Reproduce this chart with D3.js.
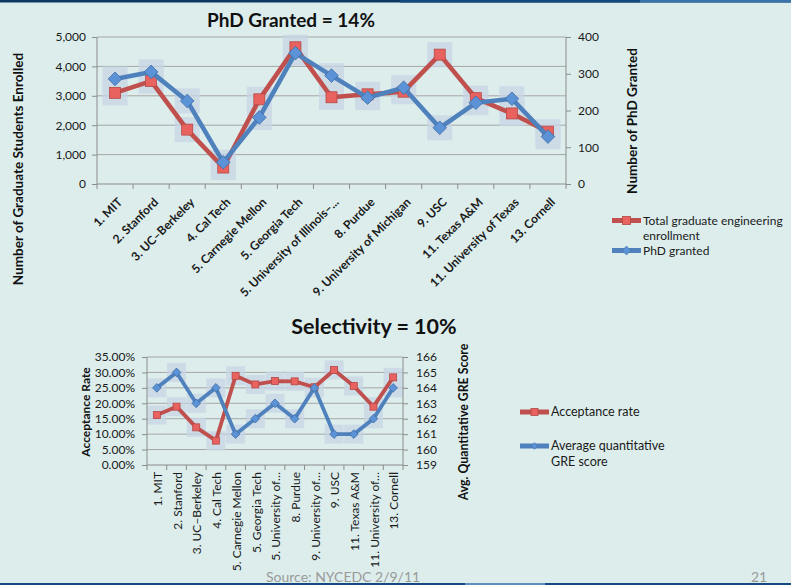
<!DOCTYPE html>
<html>
<head>
<meta charset="utf-8">
<script src="https://cdn.jsdelivr.net/npm/d3@7"></script>
<style>
  html, body { margin: 0; padding: 0; background: #dcedec; }
  svg { display: block; font-family: Lato, "Open Sans", sans-serif; }
</style>
</head>
<body>
<svg id="chart" width="791" height="585"></svg>
<script>
// ---------- DATA ----------
const topCategories = ["1. MIT", "2. Stanford", "3. UC–Berkeley", "4. Cal Tech", "5. Carnegie Mellon",
  "5. Georgia Tech", "5. University of Illinois–...", "8. Purdue", "9. University of Michigan",
  "9. USC", "11. Texas A&M", "11. University of Texas", "13. Cornell"];
const bottomCategories = ["1.  MIT", "2. Stanford", "3. UC–Berkeley", "4. Cal Tech", "5. Carnegie Mellon",
  "5. Georgia Tech", "5. University of…", "8. Purdue", "9. University of…",
  "9. USC", "11. Texas A&M", "11. University of…", "13. Cornell"];
const enrollment = [3100, 3500, 1850, 560, 2880, 4650, 2950, 3050, 3140, 4400, 2920, 2400, 1780];
const phdGranted = [286, 305, 226, 59, 181, 356, 295, 235, 262, 153, 221, 232, 129];
const acceptanceRate = [0.162, 0.189, 0.122, 0.079, 0.289, 0.261, 0.272, 0.271, 0.252, 0.308, 0.256, 0.189, 0.284];
const greScore = [164, 165, 163, 164, 161, 162, 163, 162, 164, 161, 161, 162, 164];
const enrollTicks = [0, 1000, 2000, 3000, 4000, 5000];
const phdTicks = [0, 100, 200, 300, 400];
const rateTicks = [0, 0.05, 0.10, 0.15, 0.20, 0.25, 0.30, 0.35];
const greTicks = [159, 160, 161, 162, 163, 164, 165, 166];

// ---------- STYLE ----------
const RED = "#c0504d", RED_FILL = "#e8625f", BLUE = "#4f81bd", BLUE_FILL = "#5b93d6";
const GRID = "#a6a6a6", AXIS = "#8c8c8c", TXT = "#1a1a1a", GLOW = "#c9d5e6";

const svg = d3.select("#chart");

// top slide bar
svg.append("rect").attr("x", 0).attr("y", 0).attr("width", 791).attr("height", 2.5).attr("fill", "#0c3862");
svg.append("rect").attr("x", 400).attr("y", 0).attr("width", 240).attr("height", 2.5).attr("fill", "#13497c");
svg.append("rect").attr("x", 640).attr("y", 0).attr("width", 151).attr("height", 2.5).attr("fill", "#3a73aa");

function diamond(s) { return `M0,${-s}L${s},0L0,${s}L${-s},0Z`; }

function drawChart(cfg) {
  const g = svg.append("g");
  const x = d3.scaleBand().domain(d3.range(cfg.labels.length)).range([cfg.x0, cfg.x1]);
  const yL = d3.scaleLinear().domain(cfg.leftDomain).range([cfg.y1, cfg.y0]);
  const yR = d3.scaleLinear().domain(cfg.rightDomain).range([cfg.y1, cfg.y0]);
  const cx = i => x(i) + x.bandwidth() / 2;

  // title
  g.append("text").attr("x", cfg.titleX).attr("y", cfg.titleY).attr("text-anchor", "middle")
    .attr("font-weight", "bold").attr("font-size", cfg.titleSize).attr("fill", "#111").text(cfg.title);

  // gridlines
  g.selectAll(".grid").data(cfg.leftTicks.slice(1)).join("line")
    .attr("x1", cfg.x0).attr("x2", cfg.x1).attr("y1", d => yL(d)).attr("y2", d => yL(d))
    .attr("stroke", GRID).attr("stroke-width", 1);

  // glows
  const glowG = g.append("g").attr("opacity", 0.75);
  const gs = cfg.glow;
  cfg.seriesA.forEach((v, i) => glowG.append("rect").attr("x", cx(i) - gs / 2).attr("y", yL(v) - gs / 2)
    .attr("width", gs).attr("height", gs).attr("fill", GLOW));
  cfg.seriesB.forEach((v, i) => glowG.append("rect").attr("x", cx(i) - gs / 2).attr("y", yR(v) - gs / 2)
    .attr("width", gs).attr("height", gs).attr("fill", GLOW));

  // axes lines
  g.append("line").attr("x1", cfg.x0).attr("x2", cfg.x0).attr("y1", cfg.y0).attr("y2", cfg.y1).attr("stroke", AXIS);
  g.append("line").attr("x1", cfg.x1).attr("x2", cfg.x1).attr("y1", cfg.y0).attr("y2", cfg.y1).attr("stroke", AXIS);
  g.append("line").attr("x1", cfg.x0).attr("x2", cfg.x1).attr("y1", cfg.y1).attr("y2", cfg.y1).attr("stroke", AXIS);

  // left axis ticks + labels
  const lAx = g.append("g").attr("transform", `translate(${cfg.x0},0)`)
    .call(d3.axisLeft(yL).tickValues(cfg.leftTicks).tickFormat(cfg.leftFormat).tickSize(5).tickPadding(cfg.leftPad));
  lAx.select(".domain").remove();
  lAx.selectAll("line").attr("stroke", AXIS);
  lAx.selectAll("text").attr("font-size", cfg.tickSize).attr("fill", TXT).attr("font-family", "Lato, sans-serif");

  const rAx = g.append("g").attr("transform", `translate(${cfg.x1},0)`)
    .call(d3.axisRight(yR).tickValues(cfg.rightTicks).tickFormat(cfg.rightFormat).tickSize(5).tickPadding(cfg.rightPad));
  rAx.select(".domain").remove();
  rAx.selectAll("line").attr("stroke", AXIS);
  rAx.selectAll("text").attr("font-size", cfg.tickSize).attr("fill", TXT).attr("font-family", "Lato, sans-serif");

  // category ticks at band boundaries
  g.selectAll(".ctick").data(d3.range(cfg.labels.length + 1)).join("line")
    .attr("x1", i => cfg.x0 + i * x.step()).attr("x2", i => cfg.x0 + i * x.step())
    .attr("y1", cfg.y1).attr("y2", cfg.y1 + 5).attr("stroke", AXIS);

  // category labels
  g.selectAll(".clab").data(cfg.labels).join("text")
    .attr("transform", (d, i) => `translate(${cx(i) + cfg.labDx},${cfg.labY}) rotate(${cfg.labRot})`)
    .attr("text-anchor", "end").attr("dy", cfg.labDy)
    .attr("font-size", cfg.labSize).attr("font-weight", cfg.labWeight).attr("fill", TXT).text(d => d);

  // lines
  const lineA = d3.line().x((d, i) => cx(i)).y(d => yL(d));
  const lineB = d3.line().x((d, i) => cx(i)).y(d => yR(d));
  g.append("path").datum(cfg.seriesA).attr("d", lineA).attr("fill", "none")
    .attr("stroke", RED).attr("stroke-width", cfg.lw).attr("stroke-linejoin", "round");
  const ms = cfg.marker;
  cfg.seriesA.forEach((v, i) => g.append("rect").attr("x", cx(i) - ms / 2).attr("y", yL(v) - ms / 2)
    .attr("width", ms).attr("height", ms).attr("fill", RED_FILL).attr("stroke", "#b54845").attr("stroke-width", 0.8));
  g.append("path").datum(cfg.seriesB).attr("d", lineB).attr("fill", "none")
    .attr("stroke", BLUE).attr("stroke-width", cfg.lw).attr("stroke-linejoin", "round");
  cfg.seriesB.forEach((v, i) => g.append("path").attr("transform", `translate(${cx(i)},${yR(v)})`)
    .attr("d", diamond(ms * 0.62)).attr("fill", BLUE_FILL).attr("stroke", "#3d6ca6").attr("stroke-width", 0.8));

  // axis titles
  g.append("text").attr("transform", `translate(${cfg.lTitleX},${cfg.lTitleY}) rotate(-90)`)
    .attr("text-anchor", "middle").attr("font-weight", "bold").attr("font-size", cfg.lTitleSize)
    .attr("fill", "#111").text(cfg.leftTitle);
  g.append("text").attr("transform", `translate(${cfg.rTitleX},${cfg.rTitleY}) rotate(-90)`)
    .attr("text-anchor", "middle").attr("font-weight", "bold").attr("font-size", cfg.rTitleSize)
    .attr("fill", "#111").text(cfg.rightTitle);

  // legend
  cfg.legend.forEach(l => {
    g.append("line").attr("x1", l.x).attr("x2", l.x + 29).attr("y1", l.y).attr("y2", l.y)
      .attr("stroke", l.color).attr("stroke-width", 5);
    if (l.shape === "square") {
      g.append("rect").attr("x", l.x + 14.5 - l.ms / 2).attr("y", l.y - l.ms / 2).attr("width", l.ms).attr("height", l.ms)
        .attr("fill", RED_FILL).attr("stroke", "#b54845").attr("stroke-width", 0.8);
    } else {
      g.append("path").attr("transform", `translate(${l.x + 14.5},${l.y})`).attr("d", diamond(l.ms * 0.55))
        .attr("fill", BLUE_FILL).attr("stroke", "#3d6ca6").attr("stroke-width", 0.6);
    }
    l.text.forEach((t, k) => g.append("text").attr("x", l.x + 31).attr("y", l.y + k * l.lh).attr("dy", "0.35em")
      .attr("font-size", l.fs).attr("fill", TXT).text(t));
  });
}

drawChart({
  labels: topCategories, x0: 97, x1: 566, y0: 37, y1: 184,
  leftDomain: [0, 5000], rightDomain: [0, 400], leftTicks: enrollTicks, rightTicks: phdTicks,
  leftFormat: d3.format(","), rightFormat: d3.format("d"), leftPad: 6, rightPad: 7,
  seriesA: enrollment, seriesB: phdGranted,
  title: "PhD Granted = 14%", titleX: 291, titleY: 27, titleSize: 19,
  tickSize: 12, glow: 25, marker: 11, lw: 4.6,
  labDx: 5, labY: 200, labRot: -45, labDy: "0.35em", labSize: 12, labWeight: "bold",
  leftTitle: "Number of Graduate Students Enrolled", lTitleX: 23, lTitleY: 169, lTitleSize: 13.5,
  rightTitle: "Number of PhD Granted", rTitleX: 637, rTitleY: 121, rTitleSize: 13.5,
  legend: [
    { x: 612, y: 220.5, color: RED, shape: "square", ms: 8, fs: 12, text: ["Total graduate engineering", "enrollment"], lh: 15 },
    { x: 612, y: 250.5, color: BLUE, shape: "diamond", ms: 8, fs: 12, text: ["PhD granted"], lh: 15 }
  ]
});

drawChart({
  labels: bottomCategories, x0: 147, x1: 403, y0: 357, y1: 465,
  leftDomain: [0, 0.35], rightDomain: [159, 166], leftTicks: rateTicks, rightTicks: greTicks,
  leftFormat: d3.format(".2%"), rightFormat: d3.format("d"), leftPad: 7, rightPad: 8,
  seriesA: acceptanceRate, seriesB: greScore,
  title: "Selectivity = 10%", titleX: 374, titleY: 334, titleSize: 21.5,
  tickSize: 12, glow: 19, marker: 7, lw: 3.8,
  labDx: 1, labY: 472, labRot: -90, labDy: "0.35em", labSize: 12, labWeight: "normal",
  leftTitle: "Acceptance Rate", lTitleX: 90, lTitleY: 412, lTitleSize: 12,
  rightTitle: "Avg. Quantitative GRE Score", rTitleX: 468, rTitleY: 422, rTitleSize: 12.3,
  legend: [
    { x: 520, y: 412, color: RED, shape: "square", ms: 7, fs: 12.5, text: ["Acceptance rate"], lh: 16 },
    { x: 520, y: 446, color: BLUE, shape: "diamond", ms: 6, fs: 12.5, text: ["Average quantitative", "GRE score"], lh: 16 }
  ]
});

// footer
svg.append("text").attr("x", 266).attr("y", 582).attr("font-size", 14).attr("fill", "#9a9a9a").text("Source:  NYCEDC 2/9/11");
svg.append("text").attr("x", 751).attr("y", 582).attr("font-size", 14).attr("fill", "#9a9a9a").text("21");
svg.append("rect").attr("x", 0).attr("y", 583).attr("width", 791).attr("height", 2).attr("fill", "#154a80");
svg.append("rect").attr("x", 465).attr("y", 583).attr("width", 80).attr("height", 2).attr("fill", "#5e8fbf");
</script>
</body>
</html>
